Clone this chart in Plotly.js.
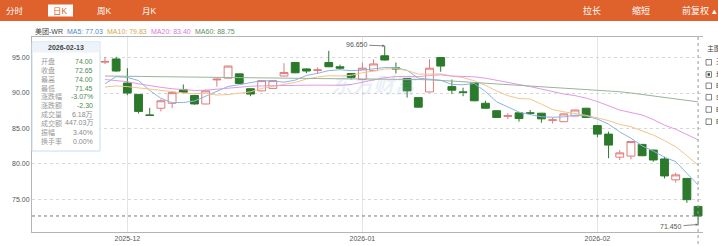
<!DOCTYPE html>
<html><head><meta charset="utf-8">
<script src="https://cdn.plot.ly/plotly-3.0.1.min.js"></script>
<style>html,body{margin:0;padding:0;background:#fff;overflow:hidden}#chart{width:718px;height:246px}</style>
</head><body><div id="chart"></div>
<script>
const dates = ['2025-11-27','2025-11-28','2025-12-01','2025-12-02','2025-12-03','2025-12-04','2025-12-05','2025-12-08','2025-12-09','2025-12-10','2025-12-11','2025-12-12','2025-12-15','2025-12-16','2025-12-17','2025-12-18','2025-12-19','2025-12-22','2025-12-23','2025-12-24','2025-12-29','2025-12-30','2025-12-31','2026-01-02','2026-01-05','2026-01-06','2026-01-07','2026-01-08','2026-01-09','2026-01-12','2026-01-13','2026-01-14','2026-01-15','2026-01-16','2026-01-19','2026-01-20','2026-01-21','2026-01-22','2026-01-23','2026-01-26','2026-01-27','2026-01-28','2026-01-29','2026-01-30','2026-02-02','2026-02-03','2026-02-04','2026-02-05','2026-02-06','2026-02-09','2026-02-10','2026-02-11','2026-02-12','2026-02-13'];
const openP = [94.35,94.8,91.4,89.8,86.9,87.85,88.55,90.5,89.65,88.45,91.85,92.1,92.7,90.6,90.3,90.65,92.4,94.3,93.4,93.2,94.3,93.7,92.75,91.9,93.15,95.25,93.55,92.05,89.35,90.15,95.0,90.9,90.15,91.4,88.55,87.5,86.7,87.2,87.2,87.15,86.15,85.95,86.75,87.85,85.4,84.2,80.95,81.1,82.75,81.95,80.7,77.75,77.95,74.0];
const highP = [95.1,95.1,93.5,89.85,87.9,89.1,90.2,91.2,89.75,90.5,92.05,93.85,92.75,90.65,91.8,91.8,94.2,94.35,93.45,93.6,95.95,94.0,92.8,94.3,94.75,96.65,94.3,92.1,89.4,94.75,95.05,91.9,90.75,91.5,88.9,87.55,87.15,87.25,87.6,87.2,86.55,87.1,87.65,87.9,85.45,84.55,81.95,83.2,82.8,82.0,81.0,78.75,78.0,74.0];
const lowP = [94.1,93.0,89.7,87.1,86.75,87.4,87.85,90.05,88.35,88.4,90.9,92.05,91.3,89.55,90.25,90.6,92.35,92.8,92.8,92.7,93.65,93.3,91.9,91.85,93.1,94.6,92.75,89.35,87.95,90.1,93.0,89.85,89.55,88.85,87.8,86.5,86.3,85.95,86.9,85.8,85.7,85.9,86.7,86.5,83.75,80.8,80.55,80.65,81.1,80.3,77.95,77.35,74.5,71.45];
const closeP = [94.45,93.1,90.0,87.4,86.85,88.9,90.05,90.1,88.45,90.3,91.95,93.8,91.35,89.85,91.75,91.75,92.9,92.85,93.1,93.25,93.7,93.5,92.2,93.5,94.1,94.65,93.4,90.3,88.0,93.5,93.8,90.4,90.1,88.9,87.85,86.55,86.8,86.4,87.15,86.35,86.2,87.05,87.6,86.55,84.2,82.65,81.55,83.15,81.15,80.55,78.3,78.45,74.95,72.65];
const ma5 = [91.3,92.3,92.2,91.75,90.36,89.25,88.64,88.66,88.87,89.56,90.17,90.92,91.17,91.45,91.74,91.7,91.52,91.82,92.47,92.77,93.16,93.28,93.15,93.23,93.4,93.59,93.57,93.19,92.09,91.97,91.8,91.2,91.16,91.34,90.21,88.76,88.04,87.3,86.95,86.65,86.58,86.63,86.87,86.75,86.32,85.61,84.51,83.62,82.54,81.81,80.94,80.32,78.68,77.03];
const ma10 = [90.85,91.0,90.9,90.75,90.55,90.4,90.2,90.0,89.9,89.96,89.71,89.78,89.92,90.16,90.65,90.94,91.22,91.5,91.96,92.26,92.43,92.4,92.49,92.85,93.09,93.38,93.43,93.17,92.66,92.69,92.7,92.39,92.18,91.72,91.09,90.28,89.62,89.23,89.15,88.43,87.67,87.34,87.09,86.85,86.49,86.1,85.57,85.25,84.65,84.07,83.28,82.42,81.16,79.83];
const ma20 = [91.9,91.8,91.6,91.3,91.0,90.8,90.6,90.45,90.35,90.4,90.55,90.75,90.9,90.95,91.0,91.05,91.05,91.1,91.1,91.11,91.07,91.09,91.2,91.51,91.87,92.16,92.32,92.33,92.31,92.47,92.56,92.39,92.33,92.28,92.09,91.83,91.52,91.2,90.9,90.56,90.18,89.86,89.63,89.28,88.79,88.19,87.6,87.24,86.9,86.25,85.47,84.88,84.12,83.40];
const ma60 = [92.4,92.4,92.38,92.35,92.33,92.3,92.28,92.27,92.25,92.24,92.22,92.2,92.19,92.17,92.15,92.13,92.1,92.08,92.06,92.04,92.03,92.02,92.0,92.0,92.0,92.0,91.98,91.95,91.9,91.85,91.8,91.7,91.6,91.48,91.38,91.28,91.18,91.08,91.0,90.92,90.83,90.74,90.65,90.55,90.45,90.32,90.18,90.0,89.8,89.6,89.4,89.2,88.98,88.75];
const monthTicks = ['2025-12','2026-01','2026-02'];
const yTicks = [75,80,85,90,95];
const stockName = '美团-WR';
const maNames = ['MA5','MA10','MA20','MA60'];
const tipDate = '2026-02-13';
const tipLabels = ['开盘','收盘','最高','最低','涨跌幅','涨跌额','成交量','成交额','振幅','换手率'];
const tipValues = ['74.00','72.65','74.00','71.45','-3.07%','-2.30','6.18万','447.03万','3.40%','0.00%'];
const tabsLeft = ['分时','日K','周K','月K'];
const tabsRight = ['拉长','缩短','前复权 ▴'];
const panelTitle = '主图';
const panelItems = ['无','均线','EXPMA','SAR','BOLL','BBI'];

const FF = '"Liberation Sans", Arial, "Noto Sans CJK SC", sans-serif';
const L=32, R=703, T=37, B=232;
const px = x => (x-L)/(R-L);
const py = y => (B-y)/(B-T);
const idx = dates.map((d,i)=>i);
const maSeries = [ma5, ma10, ma20, ma60];
const maLine = ['#8db3e2','#f0c58c','#e29ae2','#9bb39b'];
const maText = ['#4f86cc','#d7a451','#d878d8','#5d8f5d'];

const traces = maSeries.map((s,k)=>({type:'scatter',mode:'lines',x:idx,y:s,line:{color:maLine[k],width:1},hoverinfo:'skip',showlegend:false}));
traces.push({type:'candlestick',x:idx,open:openP,high:highP,low:lowP,close:closeP,
  increasing:{line:{color:'#e07a7a',width:1},fillcolor:'#ffffff'},
  decreasing:{line:{color:'#2b7a2b',width:1},fillcolor:'#2b7a2b'},
  whiskerwidth:0,hoverinfo:'skip',showlegend:false});

const shapes = [], ann = [];
// header bar
shapes.push({type:'rect',xref:'paper',yref:'paper',x0:px(-2),x1:px(720),y0:py(0),y1:py(21),fillcolor:'#df612c',line:{width:0},layer:'above'});
shapes.push({type:'rect',xref:'paper',yref:'paper',x0:px(48),x1:px(73),y0:py(4.5),y1:py(16.5),fillcolor:'#ffffff',line:{width:0},layer:'above'});
const tabLX = [15,60.5,104,149];
tabsLeft.forEach((t,i)=>ann.push({xref:'paper',yref:'paper',x:px(tabLX[i]),y:py(10.5),text:t,showarrow:false,xanchor:'center',yanchor:'middle',font:{family:FF,size:8.5,color:i===1?'#df612c':'#ffffff'}}));
const tabRX = [592,641,699];
tabsRight.forEach((t,i)=>ann.push({xref:'paper',yref:'paper',x:px(tabRX[i]),y:py(10.5),text:t,showarrow:false,xanchor:'center',yanchor:'middle',font:{family:FF,size:9,color:'#ffffff'}}));
// legend line
ann.push({xref:'paper',yref:'paper',x:px(33),y:py(31.5),text:stockName,showarrow:false,xanchor:'left',yanchor:'middle',font:{family:FF,size:7,color:'#444'}});
const legX = [65,105,149,193];
maNames.forEach((n,k)=>{const s=maSeries[k];ann.push({xref:'paper',yref:'paper',x:px(legX[k]),y:py(31.5),text:n+': '+s[s.length-1].toFixed(2),showarrow:false,xanchor:'left',yanchor:'middle',font:{family:FF,size:7,color:maText[k]}});});
// watermark
ann.push({xref:'paper',yref:'paper',x:px(375),y:py(84),text:'<i><b>东方财富</b></i>',showarrow:false,xanchor:'center',yanchor:'middle',font:{family:'"Noto Sans CJK SC", sans-serif',size:21,color:'rgba(140,175,215,0.2)'}});
// crosshair at last candle
const last = idx.length-1;
shapes.push({type:'line',xref:'paper',yref:'y',x0:0,x1:1,y0:closeP[last],y1:closeP[last],line:{color:'#777',width:1,dash:'dot'},layer:'above'});
shapes.push({type:'line',xref:'x',yref:'paper',x0:idx[last],x1:idx[last],y0:py(37),y1:py(246),line:{color:'#999',width:1,dash:'dot'},layer:'above'});
// max / min labels
const maxH = Math.max(...highP), iMax = highP.indexOf(maxH);
const minL = Math.min(...lowP), iMin = lowP.indexOf(minL);
ann.push({x:idx[iMax],y:maxH,xref:'x',yref:'y',text:maxH.toFixed(3),showarrow:true,ax:-28,ay:-1,arrowhead:2,arrowsize:0.6,arrowwidth:0.8,arrowcolor:'#666',standoff:0,font:{family:FF,size:7,color:'#555'}});
ann.push({x:idx[iMin],y:minL,xref:'x',yref:'y',text:minL.toFixed(3),showarrow:true,ax:-27,ay:2,arrowhead:2,arrowsize:0.6,arrowwidth:0.8,arrowcolor:'#666',standoff:0,font:{family:FF,size:7,color:'#555'}});
// tooltip box
shapes.push({type:'rect',xref:'paper',yref:'paper',x0:px(32),x1:px(100),y0:py(42),y1:py(151),fillcolor:'#ffffff',line:{color:'#c8dcef',width:1},layer:'above'});
shapes.push({type:'rect',xref:'paper',yref:'paper',x0:px(32.5),x1:px(99.5),y0:py(42.5),y1:py(52.5),fillcolor:'#edf3f9',line:{width:0},layer:'above'});
ann.push({xref:'paper',yref:'paper',x:px(66),y:py(47.5),text:'<b>'+tipDate+'</b>',showarrow:false,xanchor:'center',yanchor:'middle',font:{family:FF,size:7,color:'#444'}});
tipLabels.forEach((t,i)=>{const yy=61.5+i*8.85;
  ann.push({xref:'paper',yref:'paper',x:px(39),y:py(yy),text:t,showarrow:false,xanchor:'left',yanchor:'middle',font:{family:FF,size:7,color:'#9a9a9a'}});
  ann.push({xref:'paper',yref:'paper',x:px(94.5),y:py(yy),text:tipValues[i],showarrow:false,xanchor:'right',yanchor:'middle',font:{family:FF,size:7,color:i<6?'#4e8a4e':'#8a8a8a'}});});
// right panel
ann.push({xref:'paper',yref:'paper',x:px(705),y:py(48),text:panelTitle,showarrow:false,xanchor:'left',yanchor:'middle',font:{family:FF,size:7,color:'#444'}});
const boxY=[62.3,74.5,85.8,97.2,109.5,121.7];
panelItems.forEach((t,i)=>{
  shapes.push({type:'rect',xref:'paper',yref:'paper',x0:px(706),x1:px(711.5),y0:py(boxY[i]-2.8),y1:py(boxY[i]+2.8),fillcolor:'#fff',line:{color:'#666',width:0.8},layer:'above'});
  if(i===1) shapes.push({type:'rect',xref:'paper',yref:'paper',x0:px(707.6),x1:px(709.9),y0:py(boxY[i]-1.2),y1:py(boxY[i]+1.2),fillcolor:'#333',line:{width:0},layer:'above'});
  ann.push({xref:'paper',yref:'paper',x:px(714),y:py(boxY[i]),text:t,showarrow:false,xanchor:'left',yanchor:'middle',font:{family:FF,size:7,color:'#444'}});
});

const layout = {
  width:718,height:246,margin:{l:L,r:718-R,t:T,b:246-B,pad:0},
  paper_bgcolor:'#fff',plot_bgcolor:'#fff',showlegend:false,hovermode:false,
  boxgap:0,boxgroupgap:0.3,
  xaxis:{type:'linear',range:[-6.52,53.44],tickvals:monthTicks.map(m=>dates.findIndex(d=>d.startsWith(m))),ticktext:monthTicks,
    showgrid:true,gridcolor:'#e4e4e4',gridwidth:1,zeroline:false,showline:true,linecolor:'#b5b5b5',linewidth:1,mirror:true,ticks:'',
    tickfont:{family:FF,size:7,color:'#555'},rangeslider:{visible:false},fixedrange:true},
  yaxis:{range:[70.39,97.9],tickvals:yTicks,ticktext:yTicks.map(v=>v.toFixed(2)),showgrid:true,gridcolor:'#d8d8d8',griddash:'dot',gridwidth:1,
    zeroline:false,showline:true,linecolor:'#b5b5b5',linewidth:1,ticks:'',tickfont:{family:FF,size:7,color:'#555'},fixedrange:true},
  shapes:shapes,annotations:ann
};
Plotly.newPlot('chart',traces,layout,{displayModeBar:false,staticPlot:true});
</script></body></html>
